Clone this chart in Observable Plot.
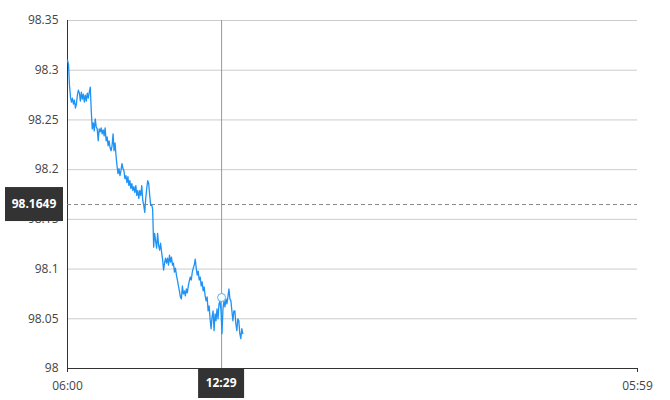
<!DOCTYPE html>
<html><head><meta charset="utf-8">
<script src="https://cdn.jsdelivr.net/npm/d3@7"></script>
<script src="https://cdn.jsdelivr.net/npm/@observablehq/plot@0.6"></script>
<style>
body{margin:0;background:#fff;}
svg{font-family:"Open Sans","Noto Sans",sans-serif;}
</style>
</head><body><div id="chart"></div>
<script>
// ---- data ----
const startTime = "2024-01-01T06:00:00Z";
const endTime = "2024-01-02T05:59:00Z";
const stepMinutes = 2.5; // sampling interval of the series
const values = [
98.310,98.306,98.285,98.273,98.268,98.272,98.266,98.270,98.262,98.266,
98.275,98.280,98.277,98.269,98.278,98.271,98.276,98.268,98.275,98.269,
98.277,98.272,98.278,98.283,98.259,98.241,98.247,98.239,98.251,98.243,
98.241,98.229,98.241,98.238,98.242,98.236,98.240,98.234,98.242,98.229,
98.233,98.224,98.229,98.222,98.219,98.224,98.236,98.219,98.227,98.214,
98.204,98.196,98.201,98.194,98.199,98.206,98.201,98.199,98.191,98.194,
98.187,98.193,98.184,98.189,98.181,98.186,98.179,98.183,98.177,98.184,
98.174,98.179,98.171,98.179,98.174,98.184,98.169,98.164,98.157,98.171,
98.181,98.189,98.186,98.174,98.164,98.165,98.160,98.122,98.136,98.128,
98.121,98.136,98.124,98.119,98.126,98.117,98.110,98.099,98.106,98.111,
98.106,98.111,98.104,98.114,98.107,98.112,98.104,98.106,98.097,98.101,
98.094,98.089,98.083,98.078,98.072,98.070,98.083,98.075,98.078,98.073,
98.080,98.076,98.083,98.088,98.092,98.089,98.097,98.101,98.104,98.110,
98.101,98.094,98.098,98.089,98.092,98.083,98.087,98.078,98.082,98.073,
98.068,98.072,98.058,98.063,98.050,98.040,98.052,98.058,98.038,98.055,
98.048,98.060,98.050,98.065,98.068,98.058,98.035,98.060,98.068,98.062,
98.070,98.065,98.072,98.080,98.070,98.068,98.058,98.048,98.058,98.058,
98.045,98.038,98.050,98.048,98.035,98.030,98.040,98.035
];
const yTicks = [98, 98.05, 98.1, 98.15, 98.2, 98.25, 98.3, 98.35];
const xTicks = [startTime, endTime];
const cursorTime = "2024-01-01T12:29:00Z";
const cursorTimeLabel = "12:29";
const cursorPrice = 98.1649;
const cursorPriceLabel = "98.1649";
const hoverValue = 98.0714;

// ---- build ----
const t0 = new Date(startTime);
const data = values.map((v, i) => ({t: new Date(+t0 + i * stepMinutes * 60000), v}));
const fmtTime = d3.utcFormat("%H:%M");

const chart = Plot.plot({
  width: 670, height: 400,
  marginLeft: 67, marginRight: 33, marginTop: 20, marginBottom: 32,
  style: {fontFamily: '"Open Sans","Noto Sans",sans-serif', fontSize: "12px", color: "#444"},
  x: {type: "utc", domain: [new Date(startTime), new Date(endTime)]},
  y: {domain: [98, 98.35]},
  marks: [
    Plot.gridY(yTicks, {stroke: "#cccccc", strokeOpacity: 1}),
    Plot.axisY(yTicks, {tickSize: 0, tickPadding: 9, fontSize: 12, fill: "#444",
      tickFormat: d => String(+d.toFixed(2)), label: null}),
    Plot.axisX(xTicks.map(d => new Date(d)), {tickSize: 4, tickPadding: 9, fontSize: 12, fill: "#444",
      stroke: "#333", tickFormat: fmtTime, label: null}),
    Plot.ruleY([98], {stroke: "#333"}),
    Plot.ruleX([new Date(startTime)], {stroke: "#333"}),
    Plot.ruleX([new Date(cursorTime)], {stroke: "#999", y1: 98, y2: 98.35}),
    Plot.ruleY([cursorPrice], {stroke: "#888", strokeDasharray: "4,3"}),
    Plot.lineY(data, {x: "t", y: "v", stroke: "#1f93f5", strokeWidth: 1.3}),
    Plot.dot([{t: new Date(cursorTime), v: hoverValue}], {x: "t", y: "v", r: 4, stroke: "#5aaef0", fill: "white", strokeWidth: 1})
  ]
});
document.getElementById("chart").appendChild(chart);

// ---- cursor labels (positioned with Plot's own scales) ----
const sx = chart.scale("x"), sy = chart.scale("y");
const svg = d3.select(chart);
const cx = sx.apply(new Date(cursorTime));
const cy = sy.apply(cursorPrice);
const yBase = sy.apply(98);
svg.append("line").attr("x1", cx).attr("x2", cx).attr("y1", yBase).attr("y2", yBase + 4).attr("stroke", "#999");
const lg = svg.append("g");
lg.append("rect").attr("x", 5).attr("y", cy - 17).attr("width", 58).attr("height", 34).attr("fill", "#333");
lg.append("text").attr("x", 34).attr("y", cy).attr("dy", "0.35em").attr("text-anchor", "middle")
  .attr("fill", "#fff").attr("font-weight", "bold").attr("font-size", 12).text(cursorPriceLabel);
const bg = svg.append("g");
bg.append("rect").attr("x", cx - 23).attr("y", yBase).attr("width", 46).attr("height", 30).attr("fill", "#333");
bg.append("text").attr("x", cx).attr("y", yBase + 15).attr("dy", "0.35em").attr("text-anchor", "middle")
  .attr("fill", "#fff").attr("font-weight", "bold").attr("font-size", 12).text(cursorTimeLabel);
</script>
</body></html>
